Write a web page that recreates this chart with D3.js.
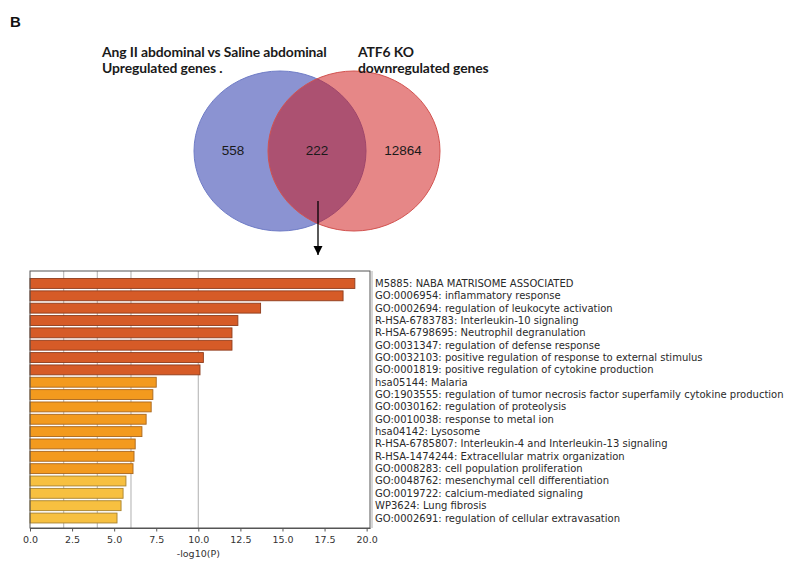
<!DOCTYPE html>
<html>
<head>
<meta charset="utf-8">
<script src="https://cdn.jsdelivr.net/npm/d3@7/dist/d3.min.js"></script>
<style>
  html, body { margin: 0; padding: 0; background: #fff; }
  svg { display: block; }
</style>
</head>
<body>
<svg id="fig" width="792" height="564"></svg>
<script>
// Venn counts
const vennCounts = [558, 222, 12864];
const setTitles = [
  ["Ang II abdominal vs Saline abdominal", "Upregulated genes  ."],
  ["ATF6 KO", "downregulated genes"]
];

// Enrichment terms and -log10(P)
const terms = [
  "M5885: NABA MATRISOME ASSOCIATED",
  "GO:0006954: inflammatory response",
  "GO:0002694: regulation of leukocyte activation",
  "R-HSA-6783783: Interleukin-10 signaling",
  "R-HSA-6798695: Neutrophil degranulation",
  "GO:0031347: regulation of defense response",
  "GO:0032103: positive regulation of response to external stimulus",
  "GO:0001819: positive regulation of cytokine production",
  "hsa05144: Malaria",
  "GO:1903555: regulation of tumor necrosis factor superfamily cytokine production",
  "GO:0030162: regulation of proteolysis",
  "GO:0010038: response to metal ion",
  "hsa04142: Lysosome",
  "R-HSA-6785807: Interleukin-4 and Interleukin-13 signaling",
  "R-HSA-1474244: Extracellular matrix organization",
  "GO:0008283: cell population proliferation",
  "GO:0048762: mesenchymal cell differentiation",
  "GO:0019722: calcium-mediated signaling",
  "WP3624: Lung fibrosis",
  "GO:0002691: regulation of cellular extravasation"
];
const logP = [19.3, 18.6, 13.7, 12.35, 12.0, 12.0, 10.3, 10.1, 7.5, 7.3, 7.2, 6.9, 6.65, 6.25, 6.18, 6.12, 5.7, 5.53, 5.41, 5.17];

const xTicks = [0, 2.5, 5, 7.5, 10, 12.5, 15, 17.5, 20];
const gridValues = [2, 4, 6, 10];

const svg = d3.select("#fig");

// panel letter
svg.append("text")
  .attr("x", 10).attr("y", 27)
  .attr("font-family", "Liberation Sans, Arial, sans-serif")
  .attr("font-weight", "bold").attr("font-size", 15)
  .attr("fill", "#111")
  .text("B");

// ---------- Venn diagram ----------
const venn = svg.append("g");
venn.append("ellipse")
  .attr("cx", 280).attr("cy", 151).attr("rx", 86).attr("ry", 80)
  .attr("fill", "#8b93d2").attr("stroke", "#6f7cc6").attr("stroke-width", 1);
venn.append("ellipse")
  .attr("cx", 354).attr("cy", 151).attr("rx", 86).attr("ry", 80)
  .attr("fill", "#cd1010").attr("fill-opacity", 0.5)
  .attr("stroke", "#d2524f").attr("stroke-width", 1);

const countX = [233, 317, 403];
venn.selectAll("text.count")
  .data(vennCounts)
  .join("text")
  .attr("class", "count")
  .attr("x", (d, i) => countX[i]).attr("y", 155)
  .attr("text-anchor", "middle")
  .attr("font-family", "Liberation Sans, Arial, sans-serif")
  .attr("font-size", 13.5)
  .attr("fill", "#1a1a1a")
  .text(d => d);

const titleX = [102, 358];
setTitles.forEach((lines, i) => {
  lines.forEach((ln, j) => {
    svg.append("text")
      .attr("x", titleX[i]).attr("y", 57 + j * 16)
      .attr("font-family", "Lato, 'Open Sans', sans-serif")
      .attr("font-weight", "bold").attr("font-size", 13.9)
      .attr("letter-spacing", -0.1)
      .attr("fill", "#1a1a1a")
      .text(ln);
  });
});

// arrow from the overlap down to the bar chart
svg.append("defs").append("marker")
  .attr("id", "arrowhead")
  .attr("viewBox", "0 0 10 10")
  .attr("refX", 10).attr("refY", 5)
  .attr("markerWidth", 9).attr("markerHeight", 10)
  .attr("markerUnits", "userSpaceOnUse")
  .attr("orient", "auto")
  .append("path").attr("d", "M0,0 L10,5 L0,10 Z").attr("fill", "#000");
svg.append("line")
  .attr("x1", 318).attr("y1", 201).attr("x2", 318).attr("y2", 255)
  .attr("stroke", "#000").attr("stroke-width", 1.3)
  .attr("marker-end", "url(#arrowhead)");

// ---------- enrichment bar chart ----------
const plot = { left: 30, right: 370, top: 271, bottom: 528 };

const x = d3.scaleLinear().domain([0, 20.2]).range([plot.left, plot.right]);
const y = d3.scaleBand().domain(terms).range([277.3, 524.2]).paddingInner(0.2).paddingOuter(0.1);

const colorFor = v => v > 10 ? "#d65b27" : (v > 6 ? "#f39a1e" : "#f7c040");
const strokeFor = v => v > 10 ? "#8e3c1c" : (v > 6 ? "#a8661e" : "#a8822e");

const chart = svg.append("g");

// threshold gridlines
chart.selectAll("line.grid")
  .data(gridValues)
  .join("line")
  .attr("class", "grid")
  .attr("x1", d => x(d)).attr("x2", d => x(d))
  .attr("y1", plot.top).attr("y2", plot.bottom)
  .attr("stroke", "#bdbdbd").attr("stroke-width", 1.2);

const rows = terms.map((t, i) => ({ term: t, v: logP[i] }));

chart.selectAll("rect.bar")
  .data(rows)
  .join("rect")
  .attr("class", "bar")
  .attr("x", x(0))
  .attr("y", d => y(d.term))
  .attr("width", d => x(d.v) - x(0))
  .attr("height", y.bandwidth())
  .attr("fill", d => colorFor(d.v))
  .attr("stroke", d => strokeFor(d.v))
  .attr("stroke-width", 0.9);

// frame
chart.append("rect")
  .attr("x", plot.left).attr("y", plot.top)
  .attr("width", plot.right - plot.left).attr("height", plot.bottom - plot.top)
  .attr("fill", "none").attr("stroke", "#555").attr("stroke-width", 1);
chart.append("line")
  .attr("x1", plot.right + 2).attr("x2", plot.right + 2)
  .attr("y1", plot.top).attr("y2", plot.bottom)
  .attr("stroke", "#9a9a9a").attr("stroke-width", 0.8);

// term labels
chart.selectAll("text.term")
  .data(rows)
  .join("text")
  .attr("class", "term")
  .attr("x", 375)
  .attr("y", d => y(d.term) + y.bandwidth() / 2)
  .attr("dy", "0.35em")
  .attr("font-family", "DejaVu Sans, sans-serif")
  .attr("font-size", 10)
  .attr("fill", "#2a2a2a")
  .text(d => d.term);

// x axis
const xAxis = d3.axisBottom(x)
  .tickValues(xTicks)
  .tickFormat(d3.format(".1f"))
  .tickSize(3.5)
  .tickSizeOuter(0);
const ax = chart.append("g")
  .attr("transform", `translate(0,${plot.bottom})`)
  .call(xAxis);
ax.select(".domain").attr("stroke", "#555");
ax.selectAll(".tick line").attr("stroke", "#555");
ax.selectAll(".tick text")
  .attr("font-family", "DejaVu Sans, sans-serif")
  .attr("font-size", 9.5)
  .attr("fill", "#333")
  .attr("dy", "0.85em");

chart.append("text")
  .attr("x", (x(0) + x(20)) / 2).attr("y", 557)
  .attr("text-anchor", "middle")
  .attr("font-family", "DejaVu Sans, sans-serif")
  .attr("font-size", 9.5)
  .attr("fill", "#333")
  .text("-log10(P)");
</script>
</body>
</html>
